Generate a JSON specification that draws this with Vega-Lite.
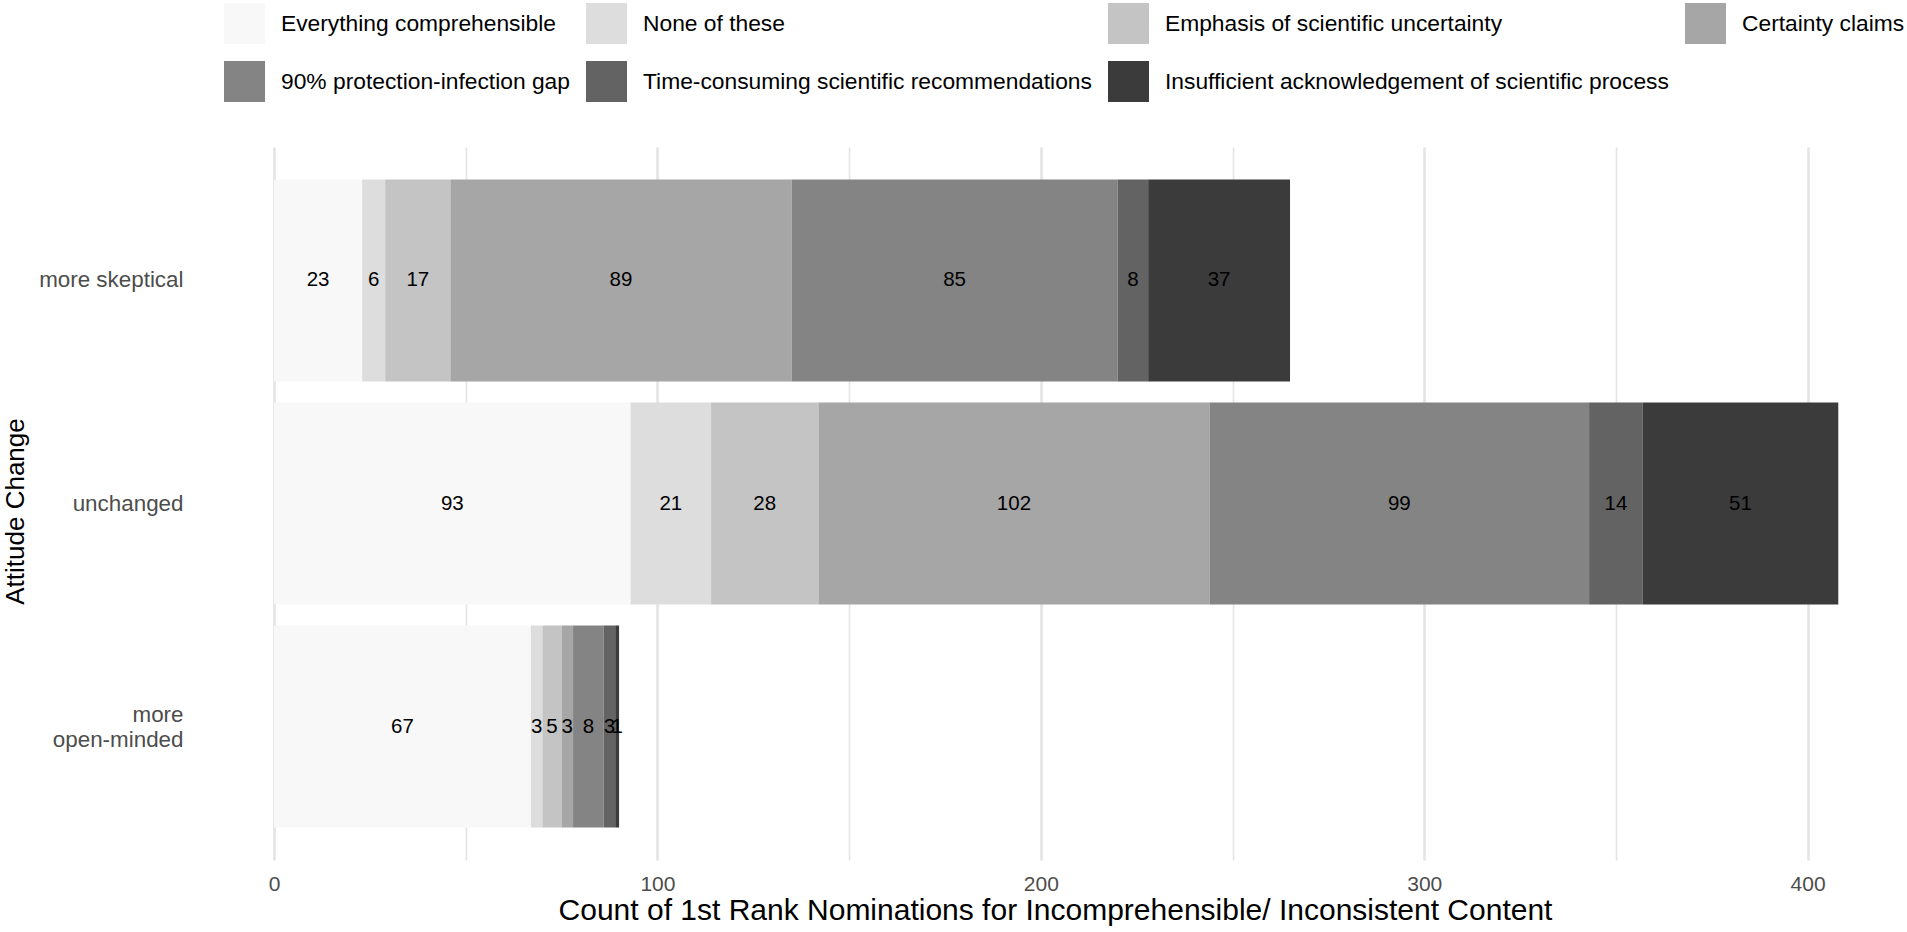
{
  "$schema": "https://vega.github.io/schema/vega-lite/v6.json",
  "autosize": {"type": "none"},
  "padding": {"left": 205, "top": 147, "right": 2, "bottom": 72},
  "width": 1700,
  "height": 713,
  "background": "white",
  "data": {
    "values": [
      {"att": "more skeptical", "cat": "Everything comprehensible", "k": 1, "n": 23},
      {"att": "more skeptical", "cat": "None of these", "k": 2, "n": 6},
      {"att": "more skeptical", "cat": "Emphasis of scientific uncertainty", "k": 3, "n": 17},
      {"att": "more skeptical", "cat": "Certainty claims", "k": 4, "n": 89},
      {"att": "more skeptical", "cat": "90% protection-infection gap", "k": 5, "n": 85},
      {"att": "more skeptical", "cat": "Time-consuming scientific recommendations", "k": 6, "n": 8},
      {"att": "more skeptical", "cat": "Insufficient acknowledgement of scientific process", "k": 7, "n": 37},
      {"att": "unchanged", "cat": "Everything comprehensible", "k": 1, "n": 93},
      {"att": "unchanged", "cat": "None of these", "k": 2, "n": 21},
      {"att": "unchanged", "cat": "Emphasis of scientific uncertainty", "k": 3, "n": 28},
      {"att": "unchanged", "cat": "Certainty claims", "k": 4, "n": 102},
      {"att": "unchanged", "cat": "90% protection-infection gap", "k": 5, "n": 99},
      {"att": "unchanged", "cat": "Time-consuming scientific recommendations", "k": 6, "n": 14},
      {"att": "unchanged", "cat": "Insufficient acknowledgement of scientific process", "k": 7, "n": 51},
      {"att": "more open-minded", "cat": "Everything comprehensible", "k": 1, "n": 67},
      {"att": "more open-minded", "cat": "None of these", "k": 2, "n": 3},
      {"att": "more open-minded", "cat": "Emphasis of scientific uncertainty", "k": 3, "n": 5},
      {"att": "more open-minded", "cat": "Certainty claims", "k": 4, "n": 3},
      {"att": "more open-minded", "cat": "90% protection-infection gap", "k": 5, "n": 8},
      {"att": "more open-minded", "cat": "Time-consuming scientific recommendations", "k": 6, "n": 3},
      {"att": "more open-minded", "cat": "Insufficient acknowledgement of scientific process", "k": 7, "n": 1}
    ]
  },
  "encoding": {
    "y": {
      "field": "att",
      "type": "nominal",
      "sort": ["more skeptical", "unchanged", "more open-minded"],
      "scale": {"paddingInner": 0.095, "paddingOuter": 0.146},
      "axis": {
        "title": "Attitude Change",
        "grid": false,
        "ticks": false,
        "domain": false,
        "labelPadding": 22,
        "labelFontSize": 22.4,
        "labelColor": "#4d4d4d",
        "labelLineHeight": 25,
        "labelOffset": {"condition": {"test": "datum.value == 'more open-minded'", "value": -12}, "value": 0},
        "labelExpr": "datum.value == 'more open-minded' ? ['more', 'open-minded'] : datum.value",
        "titleFontSize": 26,
        "titleFontWeight": "normal",
        "titleColor": "#000000",
        "titlePadding": 10,
        "titleY": 364
      }
    },
    "x": {
      "field": "n",
      "type": "quantitative",
      "stack": "zero",
      "scale": {"domain": [-18, 425.4], "nice": false, "zero": false},
      "axis": {
        "title": "Count of 1st Rank Nominations for Incomprehensible/ Inconsistent Content",
        "values": [0, 50, 100, 150, 200, 250, 300, 350, 400],
        "labelExpr": "datum.value % 100 == 0 ? datum.label : ''",
        "ticks": false,
        "domain": false,
        "gridColor": "#e4e4e4",
        "gridWidth": {"condition": {"test": "datum.value % 100 == 0", "value": 2.6}, "value": 1.6},
        "labelPadding": 13,
        "labelFontSize": 21,
        "labelColor": "#4d4d4d",
        "titleFontSize": 30,
        "titleFontWeight": "normal",
        "titleColor": "#000000",
        "titlePadding": 1
      }
    },
    "order": {"field": "k", "type": "quantitative"}
  },
  "layer": [
    {
      "mark": {"type": "bar"},
      "encoding": {
        "color": {
          "field": "cat",
          "type": "nominal",
          "scale": {
            "domain": [
              "Everything comprehensible",
              "None of these",
              "Emphasis of scientific uncertainty",
              "Certainty claims",
              "90% protection-infection gap",
              "Time-consuming scientific recommendations",
              "Insufficient acknowledgement of scientific process"
            ],
            "range": ["#f8f8f8", "#dddddd", "#c4c4c4", "#a6a6a6", "#848484", "#636363", "#3b3b3b"]
          },
          "legend": {
            "title": null,
            "orient": "none",
            "legendX": 19,
            "legendY": -144,
            "direction": "horizontal",
            "columns": 4,
            "symbolType": "square",
            "symbolSize": 1681,
            "symbolStrokeWidth": 0,
            "symbolOpacity": 1,
            "labelFontSize": 22.8,
            "labelColor": "#000000",
            "labelOffset": 16,
            "labelLimit": 1000,
            "columnPadding": 16,
            "rowPadding": 17,
            "padding": 0
          }
        }
      }
    },
    {
      "mark": {"type": "text", "fontSize": 20.5, "color": "#000000"},
      "encoding": {
        "x": {"field": "n", "type": "quantitative", "stack": "zero", "bandPosition": 0.5},
        "text": {"field": "n", "type": "quantitative"}
      }
    }
  ],
  "config": {
    "font": "Liberation Sans",
    "view": {"stroke": null}
  }
}
